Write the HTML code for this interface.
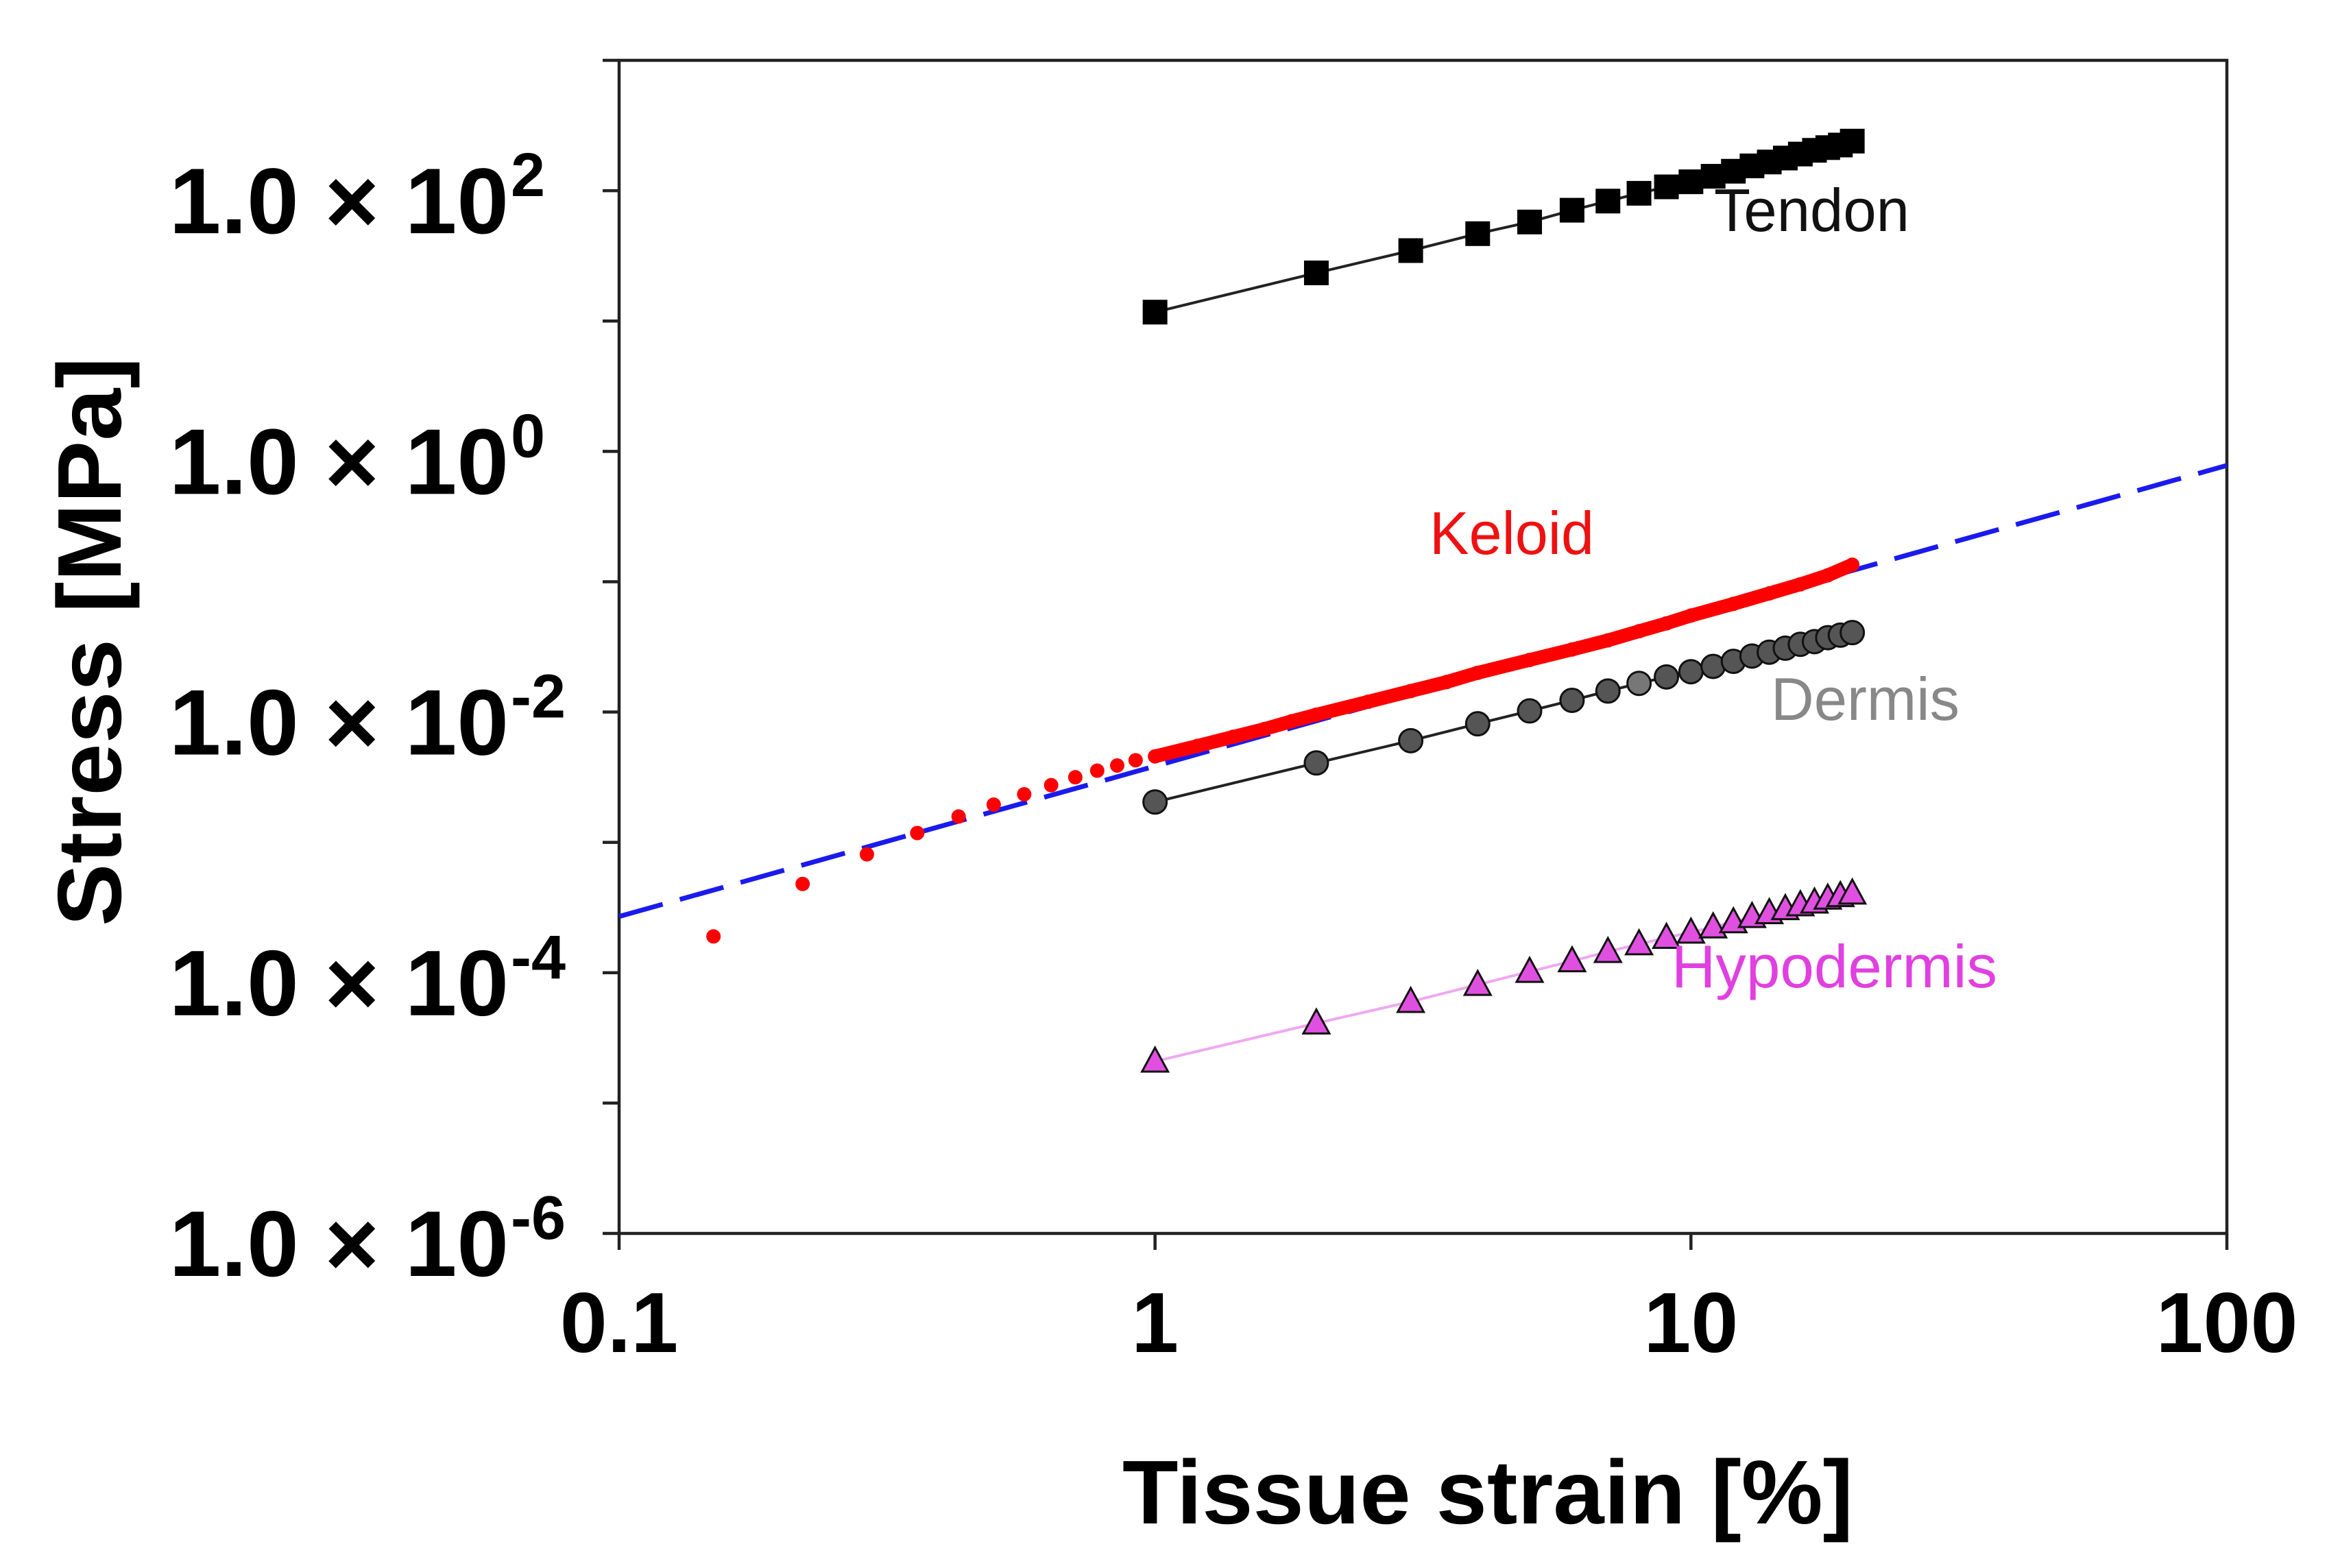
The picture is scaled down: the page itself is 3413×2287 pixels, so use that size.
<!DOCTYPE html>
<html><head><meta charset="utf-8"><style>
html,body{margin:0;padding:0;background:#fff;}
svg{display:block;font-family:"Liberation Sans",sans-serif;}
</style></head><body>
<svg id="chart" width="3413" height="2287" viewBox="0 0 3413 2287" xmlns="http://www.w3.org/2000/svg">
<g id="axes"></g>
<g id="series"></g>
<text x="2170" y="2222" font-size="132" font-weight="bold" text-anchor="middle" textLength="1066" lengthAdjust="spacingAndGlyphs">Tissue strain [%]</text>
<text transform="translate(176,936) rotate(-90)" font-size="132" font-weight="bold" text-anchor="middle" textLength="830" lengthAdjust="spacingAndGlyphs">Stress [MPa]</text>
<text x="2500" y="337" font-size="88" fill="#111" textLength="285" lengthAdjust="spacingAndGlyphs">Tendon</text>
<text x="2085" y="808" font-size="88" fill="#ee1111" textLength="240" lengthAdjust="spacingAndGlyphs">Keloid</text>
<text x="2583" y="1050" font-size="88" fill="#888" textLength="275" lengthAdjust="spacingAndGlyphs">Dermis</text>
<text x="2438" y="1440" font-size="88" fill="#e040e0" textLength="475" lengthAdjust="spacingAndGlyphs">Hypodermis</text>
</svg>
<script>
const strainX = [1,2,3,4,5,6,7,8,9,10,11,12,13,14,15,16,17,18,19,20];
const tendonY = [11.7,23.4,34.7,46.8,57.5,70.8,83.2,95.5,107,117,129,141,155,166,178,191,204,214,224,240];
const dermisY = [0.00204,0.00407,0.00603,0.00813,0.0102,0.0123,0.0145,0.0166,0.0186,0.0204,0.0224,0.0245,0.0269,0.0288,0.0309,0.0331,0.0347,0.0372,0.0389,0.0407];
const hypoY = [2.09e-5,4.1e-5,6.0e-5,8.1e-5,1.02e-4,1.23e-4,1.45e-4,1.66e-4,1.86e-4,2.04e-4,2.24e-4,2.45e-4,2.69e-4,2.88e-4,3.09e-4,3.31e-4,3.47e-4,3.72e-4,3.89e-4,4.07e-4];
const keloidX = [0.15,0.22,0.29,0.36,0.43,0.5,0.57,0.64,0.71,0.78,0.85,0.92,1.0,1.2,1.4,1.6,1.8,2,2.5,3,3.5,4,5,6,7,8,9,10,12,14,16,18,20];
const keloidY = [1.9e-4,4.8e-4,8.1e-4,1.18e-3,1.58e-3,1.95e-3,2.34e-3,2.75e-3,3.16e-3,3.55e-3,3.89e-3,4.27e-3,4.57e-3,5.5e-3,6.46e-3,7.41e-3,8.51e-3,9.55e-3,0.0120,0.0145,0.0170,0.0200,0.0251,0.0302,0.0355,0.0417,0.0479,0.0550,0.0676,0.0813,0.0955,0.112,0.135];
const fitX = [0.1,100];
const fitY = [2.7e-4,0.78];
const xTicks = [0.1,1,10,100];
const xTickLabels = ["0.1","1","10","100"];
const yTickExps = [-6,-5,-4,-3,-2,-1,0,1,2,3];
const yLabelExps = ["-6","-4","-2","0","2"];

const NS="http://www.w3.org/2000/svg";
const L=903,R=3248,T=88,B=1799;
function X(v){return L+(Math.log10(v)+1)*(R-L)/3;}
function Y(v){return B-(Math.log10(v)+6)*(B-T)/9;}
function mk(tag,attrs,parent){const e=document.createElementNS(NS,tag);for(const k in attrs)e.setAttribute(k,attrs[k]);parent.appendChild(e);return e;}
const ax=document.getElementById('axes'), se=document.getElementById('series');

let fr=mk('rect',{x:L,y:T,width:R-L,height:B-T,fill:'none',stroke:'#222','stroke-width':4.5},ax);


xTicks.forEach((v,i)=>{
  let t=mk('line',{x1:X(v),x2:X(v),y1:B,y2:B+24,stroke:'#222','stroke-width':4.5},ax);
  
  
  let tx=mk('text',{x:X(v),y:1972,'font-size':124,'font-weight':'bold','text-anchor':'middle'},ax);
  tx.textContent=xTickLabels[i];
  
  
});
yTickExps.forEach(e=>{
  const v=Math.pow(10,e);
  let t=mk('line',{x1:L-24,x2:L,y1:Y(v),y2:Y(v),stroke:'#222','stroke-width':4.5},ax);
  
  
});
yLabelExps.forEach(s=>{
  const v=Math.pow(10,+s);
  let tx=mk('text',{x:742,y:Y(v)+62,'font-size':136,'font-weight':'bold','text-anchor':'end'},ax);
  tx.textContent='1.0 \u00d7 10';
  
  
  let sup=mk('text',{x:745,y:Y(v)+8,'font-size':90,'font-weight':'bold','text-anchor':'start'},ax);
  sup.textContent=s;
  
  
});

let fl=mk('line',{x1:X(fitX[0]),y1:Y(fitY[0]),x2:X(fitX[1]),y2:Y(fitY[1]),stroke:'#1a1aee','stroke-width':7,'stroke-dasharray':'66 26'},se);



function poly(xs,ys,color,w,name){
  let p=mk('polyline',{points:xs.map((x,i)=>X(x)+','+Y(ys[i])).join(' '),fill:'none',stroke:color,'stroke-width':w},se);
  
  
}
poly(strainX,tendonY,'#222',4,'tendon-line');
poly(strainX,dermisY,'#222',4,'dermis-line');
poly(strainX,hypoY,'#f0a8f0',4,'hypodermis-line');

poly(keloidX.slice(12),keloidY.slice(12),'#ff0000',20,'keloid-line');
keloidX.forEach((x,i)=>{
  let c=mk('circle',{cx:X(x),cy:Y(keloidY[i]),r:10.5,fill:'#ff0000'},se);
  
  
});

strainX.forEach((x,i)=>{
  let s=mk('rect',{x:X(x)-18,y:Y(tendonY[i])-18,width:36,height:36,fill:'#000'},se);
  
  
  let c=mk('circle',{cx:X(x),cy:Y(dermisY[i]),r:17,fill:i===7?'#777':'#555',stroke:'#111','stroke-width':3},se);
  
  
  const px=X(x),py=Y(hypoY[i]);
  let tr=mk('polygon',{points:`${px},${py-20} ${px-19},${py+15} ${px+19},${py+15}`,fill:'#e050e0',stroke:'#111','stroke-width':3},se);
  
  
});
</script>
</body></html>
